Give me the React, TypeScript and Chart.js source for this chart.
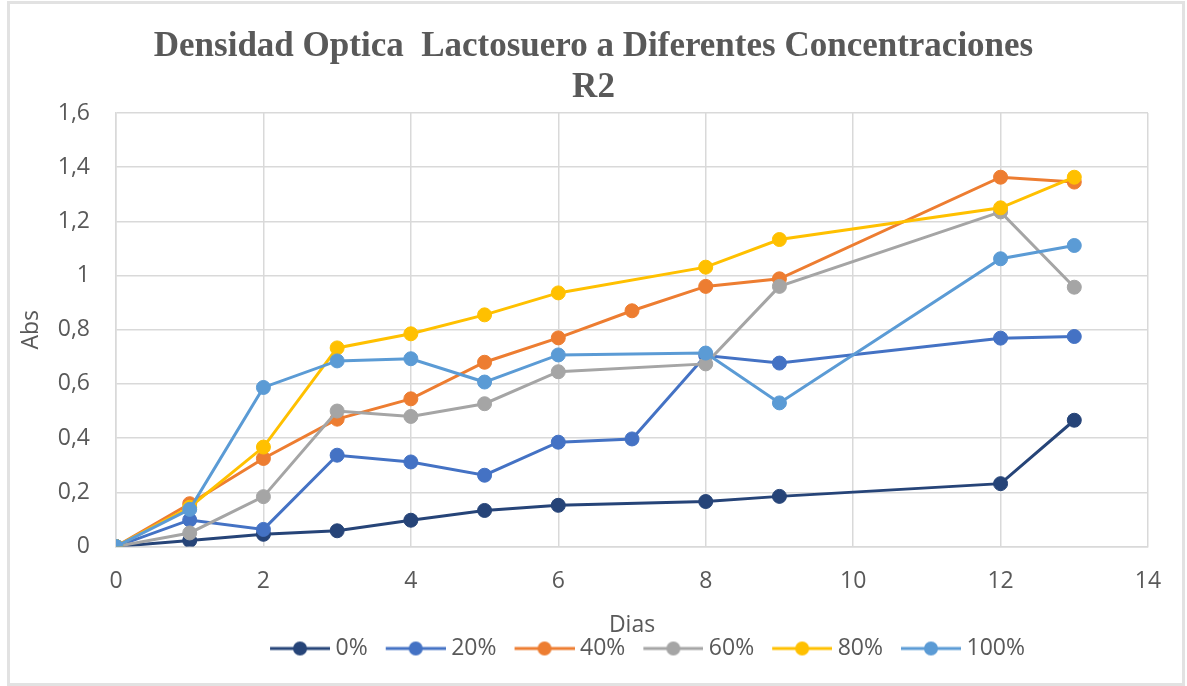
import { useEffect, useRef } from 'react';
import { Chart, registerables } from 'chart.js';

Chart.register(...registerables);

const titleLines = ['Densidad Optica  Lactosuero a Diferentes Concentraciones', 'R2'];
const xTitle = 'Dias';
const yTitle = 'Abs';
const seriesNames = ['0%', '20%', '40%', '60%', '80%', '100%'];
const seriesColors = ['#264478', '#4472C4', '#ED7D31', '#A5A5A5', '#FFC000', '#5B9BD5'];

const daysShort = [0, 1, 2, 3, 4, 5, 6, 8, 9, 12, 13];
const daysFull = [0, 1, 2, 3, 4, 5, 6, 7, 8, 9, 12, 13];

const abs0 = [0, 0.022, 0.045, 0.058, 0.097, 0.133, 0.152, 0.166, 0.185, 0.232, 0.466];
const abs20 = [0, 0.098, 0.063, 0.337, 0.312, 0.263, 0.385, 0.397, 0.705, 0.677, 0.769, 0.775];
const abs40 = [0, 0.158, 0.325, 0.47, 0.545, 0.68, 0.77, 0.87, 0.96, 0.988, 1.363, 1.345];
const abs60 = [0, 0.05, 0.184, 0.5, 0.48, 0.527, 0.645, 0.674, 0.96, 1.235, 0.957];
const abs80 = [0, 0.145, 0.367, 0.733, 0.785, 0.855, 0.936, 1.031, 1.133, 1.25, 1.363];
const abs100 = [0, 0.137, 0.587, 0.685, 0.693, 0.607, 0.707, 0.714, 0.53, 1.062, 1.111];

const seriesDays = [daysShort, daysFull, daysFull, daysShort, daysShort, daysShort];
const seriesValues = [abs0, abs20, abs40, abs60, abs80, abs100];

const xTickLabels = ['0', '2', '4', '6', '8', '10', '12', '14'];
const yTickLabels = ['0', '0,2', '0,4', '0,6', '0,8', '1', '1,2', '1,4', '1,6'];

const TEXT = '#595959';
const GRID = '#d9d9d9';
const FONT = 'Open Sans';

function legendImage(color: string): HTMLCanvasElement {
  const c = document.createElement('canvas');
  c.width = 80;
  c.height = 20;
  const ctx = c.getContext('2d')!;
  ctx.strokeStyle = color;
  ctx.lineWidth = 3;
  ctx.beginPath();
  ctx.moveTo(20, 10);
  ctx.lineTo(80, 10);
  ctx.stroke();
  ctx.fillStyle = color;
  ctx.beginPath();
  ctx.arc(50, 10, 7, 0, Math.PI * 2);
  ctx.fill();
  return c;
}

export default function App() {
  const ref = useRef<HTMLCanvasElement | null>(null);

  useEffect(() => {
    if (!ref.current) return;
    const images = seriesColors.map(legendImage);
    const datasets = seriesNames.map((name, i) => ({
      label: name,
      data: seriesDays[i].map((d, j) => ({ x: d, y: seriesValues[i][j] })),
      borderColor: seriesColors[i],
      backgroundColor: seriesColors[i],
      pointBackgroundColor: seriesColors[i],
      pointBorderColor: seriesColors[i],
      borderWidth: 3,
      pointRadius: 7,
      pointBorderWidth: 1,
      pointHoverRadius: 7,
      tension: 0,
      order: seriesNames.length - i,
    }));

    const legendShift = {
      id: 'legendShift',
      afterLayout(chart: any) {
        const l = chart.legend;
        if (l) {
          l.left += 47;
          l.right += 47;
        }
      },
    };

    const chart = new Chart(ref.current, {
      type: 'line',
      data: { datasets },
      plugins: [legendShift],
      options: {
        responsive: false,
        animation: false,
        events: [],
        layout: { padding: { left: 39, right: 39, top: 0, bottom: 16 } },
        plugins: {
          tooltip: { enabled: false },
          title: {
            display: true,
            text: titleLines,
            color: TEXT,
            font: { family: 'Liberation Serif', size: 35, weight: 'bold', lineHeight: 41 / 35 },
            padding: { top: 26.5, bottom: 4.5 },
          },
          legend: {
            display: true,
            position: 'bottom',
            labels: {
              usePointStyle: true,
              pointStyleWidth: 68,
              padding: 4,
              color: TEXT,
              font: { family: FONT, size: 23 },
              generateLabels: () =>
                seriesNames.map((name, i) => ({
                  text: name,
                  pointStyle: images[i],
                  fillStyle: seriesColors[i],
                  strokeStyle: seriesColors[i],
                  lineWidth: 0,
                  hidden: false,
                  datasetIndex: i,
                  fontColor: TEXT,
                })),
            },
          },
        },
        scales: {
          x: {
            type: 'linear',
            min: 0,
            max: 14,
            ticks: {
              stepSize: 2,
              padding: 21,
              color: TEXT,
              font: { family: FONT, size: 23, lineHeight: 1.2 },
              callback: (_v: any, idx: number) => xTickLabels[idx],
            },
            grid: { color: GRID, lineWidth: 1.5, drawTicks: false },
            border: { color: GRID, width: 1.5 },
            title: {
              display: true,
              text: xTitle,
              color: TEXT,
              font: { family: FONT, size: 23, lineHeight: 1 },
              padding: { top: 0, bottom: -4 },
            },
            afterFit: (scale: any) => {
              scale.height = 86.5;
            },
          },
          y: {
            type: 'linear',
            min: 0,
            max: 1.6,
            ticks: {
              stepSize: 0.2,
              padding: 26,
              color: TEXT,
              font: { family: FONT, size: 23 },
              callback: (_v: any, idx: number) => yTickLabels[idx],
            },
            grid: { color: GRID, lineWidth: 1.5, drawTicks: false },
            border: { color: GRID, width: 1.5 },
            title: {
              display: true,
              text: yTitle,
              color: TEXT,
              font: { family: FONT, size: 23, lineHeight: 1 },
              padding: { top: -19.5, bottom: 0 },
            },
            afterFit: (scale: any) => {
              scale.width = 77;
            },
          },
        },
      } as any,
    });
    return () => chart.destroy();
  }, []);

  return (
    <div style={{ position: 'absolute', left: 0, top: 0, width: 1187, height: 686, background: '#fff' }}>
      <div
        style={{
          position: 'absolute',
          left: 7,
          top: 1,
          width: 1178,
          height: 685,
          border: '3px solid #e2e2e2',
          boxSizing: 'border-box',
        }}
      />
      <canvas
        ref={ref}
        width={1187}
        height={686}
        style={{ position: 'absolute', left: 0, top: 0, width: 1187, height: 686 }}
      />
    </div>
  );
}
